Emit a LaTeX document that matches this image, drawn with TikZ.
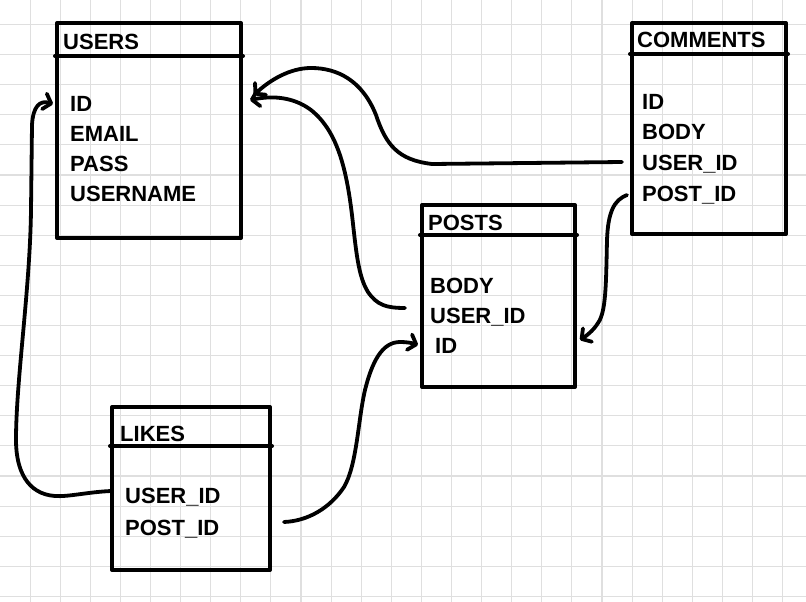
\documentclass[tikz,border=0pt]{standalone}
\usepackage{fontspec}
\setmainfont{Liberation Sans}
\usetikzlibrary{arrows.meta,calc}
\tikzset{
  gridline/.style={draw=gray!25, line width=1.1pt},
  tbl/.style={draw=black, line width=4pt, line join=round, inner sep=0pt},
  hdr/.style={draw=black, line width=4pt, line cap=round},
  ttl/.style={anchor=west, inner sep=0pt, text height=16pt, text depth=0pt, font=\fontsize{22}{22}\selectfont\bfseries},
  fld/.style={anchor=west, inner sep=0pt, text height=16pt, text depth=0pt, font=\fontsize{22}{22}\selectfont\bfseries},
  conn/.style={draw=black, line width=3.8pt, line cap=round, line join=round, -{Straight Barb[round,length=7pt,width=16pt]}},
}
\begin{document}
\begin{tikzpicture}[x=1pt,y=-1pt]
\fill[white] (0,0) rectangle (806,602);
\useasboundingbox (0,0) rectangle (806,602);
% grid
\foreach \i in {1,...,26} {\draw[gridline] ({30.1*\i},0) -- ({30.1*\i},602);}
\foreach \j in {0,...,19} {\draw[gridline] (0,{24.5+30.1*\j}) -- (806,{24.5+30.1*\j});}

% USERS
\node[tbl, minimum width=184pt, minimum height=215pt] (users) at (149,130.5) {};
\draw[hdr] ($(users.north west)+(0,35)$) -- ($(users.north east)+(0,35)$);
\node[ttl] (ust) at (63,42) {USERS};
\node[fld] (usid) at (70,103) {ID};
\node[fld] (usem) at (70,133) {EMAIL};
\node[fld] (uspa) at (70,163) {PASS};
\node[fld] (usun) at (70,193) {USERNAME};

% COMMENTS
\node[tbl, minimum width=154pt, minimum height=211pt] (comments) at (709,128.5) {};
\draw[hdr] ($(comments.north west)+(0,33)$) -- ($(comments.north east)+(0,33)$);
\node[ttl] (cmt) at (637,40) {COMMENTS};
\node[fld] (cmid) at (642,102) {ID};
\node[fld] (cmb) at (642,131) {BODY};
\node[fld] (cmu) at (642,162) {USER\_ID};
\node[fld] (cmp) at (642,193) {POST\_ID};

% POSTS
\node[tbl, minimum width=153pt, minimum height=182pt] (posts) at (498.5,296) {};
\draw[hdr] ($(posts.north west)+(0,32)$) -- ($(posts.north east)+(0,32)$);
\node[ttl] (pst) at (428,222) {POSTS};
\node[fld] (psb) at (430,285) {BODY};
\node[fld] (psu) at (430,315) {USER\_ID};
\node[fld] (psi) at (435,345) {ID};

% LIKES
\node[tbl, minimum width=158pt, minimum height=163pt] (likes) at (191,488.5) {};
\draw[hdr] ($(likes.north west)+(0,41)$) -- ($(likes.north east)+(0,41)$);
\node[ttl] (lkt) at (120,433) {LIKES};
\node[fld] (lku) at (125,495) {USER\_ID};
\node[fld] (lkp) at (125,527) {POST\_ID};

% connectors
\draw[conn] ($(lku.west)+(-14,-4)$) .. controls (88,492) and (68,497) .. (55,496)
  .. controls (27,494) and (16,470) .. (16,440)
  .. controls (16,380) and (30,290) .. (31,210) -- (32,125)
  .. controls (33,106) and (40,100) .. ($(usid.west)+(-17,1)$);

\draw[conn] ($(cmu.west)+(-20,0)$) -- (432,164)
  .. controls (398,160) and (386,145) .. (376,115)
  .. controls (362,80) and (337,68) .. (311,68)
  .. controls (290,68) and (270,80) .. ($(users.east |- usid)+(11,-8)$);

\draw[conn] ($(psu.west)+(-25,-7)$) .. controls (386,308) and (377,305) .. (368,292)
  .. controls (358,276) and (356,250) .. (352,215)
  .. controls (346,165) and (336,130) .. (311,110)
  .. controls (295,98) and (275,95) .. ($(users.east |- usid)+(7,-3)$);

\draw[conn] ($(cmp.west)+(-15,2)$) .. controls (614,200) and (608,212) .. (607,240)
  .. controls (606,285) and (606,312) .. (598,323)
  .. controls (593,331) and (586,336) .. ($(posts.east |- psi)+(3,-5)$);

\draw[conn] ($(likes.east |- lkp)+(12,-5)$) .. controls (308,521) and (330,508) .. (344,487)
  .. controls (357,465) and (358,420) .. (365,390)
  .. controls (372,362) and (382,342) .. (400,342)
  .. controls (407,342) and (412,343) .. ($(psi.west)+(-17,0)$);
\end{tikzpicture}
\end{document}
